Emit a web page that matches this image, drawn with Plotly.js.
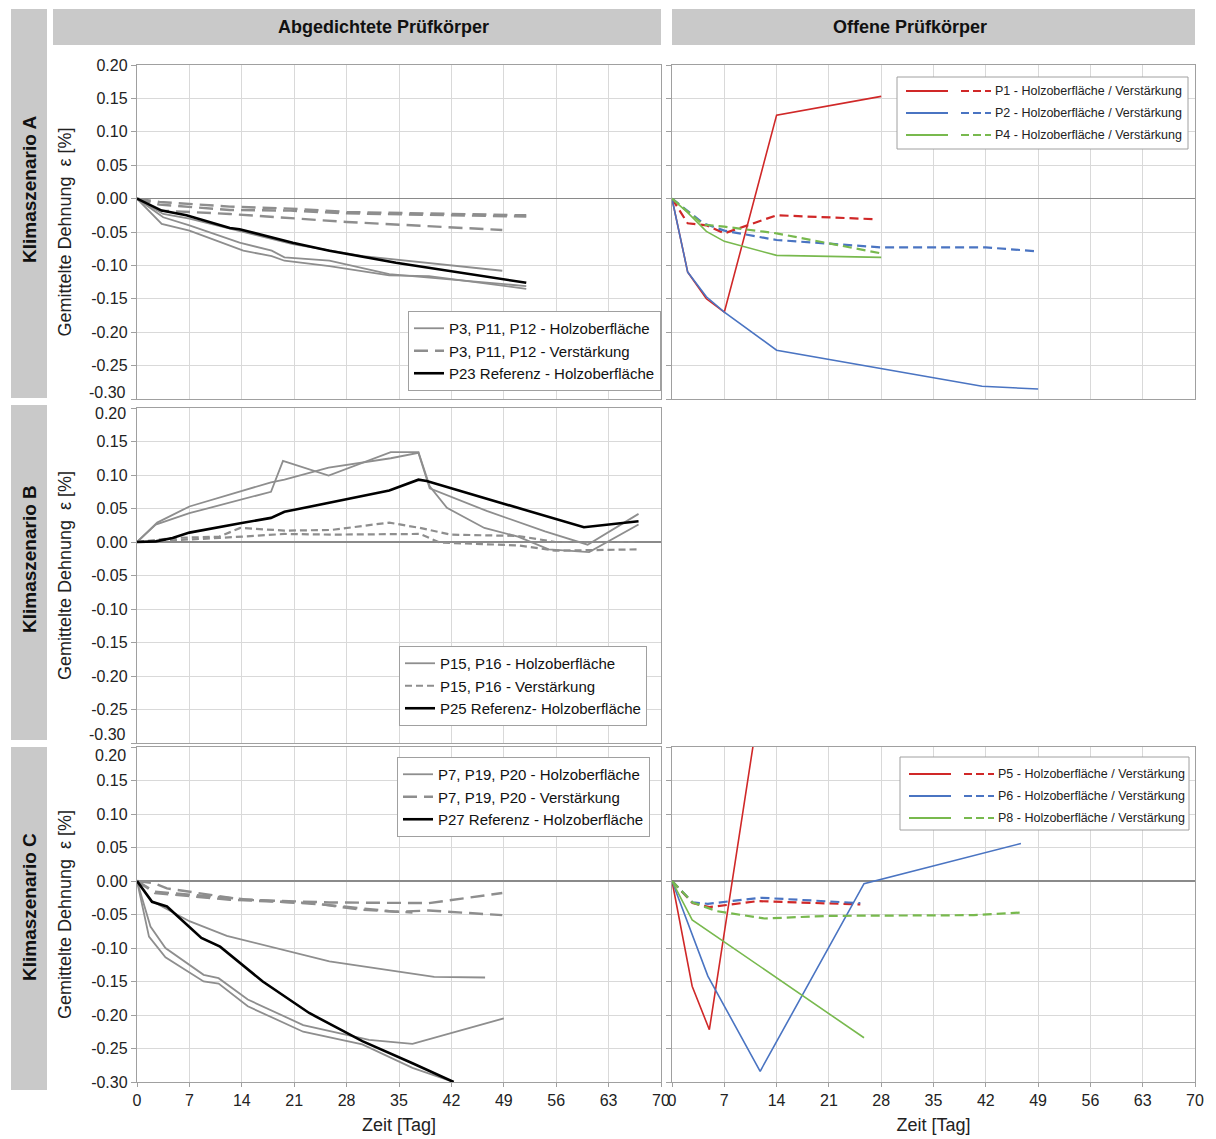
<!DOCTYPE html>
<html>
<head>
<meta charset="utf-8">
<script src="https://cdn.plot.ly/plotly-3.0.1.min.js"></script>
<style>html,body{margin:0;padding:0;background:#fff;}#chart{width:1216px;height:1139px;}</style>
</head>
<body>
<div id="chart"></div>
<script>
// ---------------- DATA ----------------
const xTicks = [0, 7, 14, 21, 28, 35, 42, 49, 56, 63, 70];
const yTicks = [-0.30, -0.25, -0.20, -0.15, -0.10, -0.05, 0.00, 0.05, 0.10, 0.15, 0.20];
const yTickText = ["-0.30", "-0.25", "-0.20", "-0.15", "-0.10", "-0.05", "0.00", "0.05", "0.10", "0.15", "0.20"];

const colHeaders = ["Abgedichtete Prüfkörper", "Offene Prüfkörper"];
const rowHeaders = ["Klimaszenario A", "Klimaszenario B", "Klimaszenario C"];
const yTitle = "Gemittelte Dehnung\u00a0\u00a0ε [%]";
const xTitle = "Zeit [Tag]";

// Klimaszenario A - abgedichtet
const A_h1_x = [0, 3.5, 7, 12.4, 20.8, 30.2, 48.8];
const A_h1_y = [0, -0.023, -0.030, -0.045, -0.068, -0.086, -0.108];
const A_h2_x = [0, 3.5, 7, 13.7, 18, 19.7, 25.7, 33.7, 52];
const A_h2_y = [0, -0.028, -0.040, -0.066, -0.078, -0.088, -0.093, -0.113, -0.131];
const A_h3_x = [0, 3.3, 7, 14.2, 18, 19.7, 25.7, 33.7, 39, 52];
const A_h3_y = [0, -0.038, -0.048, -0.078, -0.086, -0.093, -0.101, -0.115, -0.116, -0.135];
const A_v1_x = [0, 3, 12.4, 20.5, 28, 52];
const A_v1_y = [0, -0.005, -0.012, -0.015, -0.020, -0.025];
const A_v2_x = [0, 3, 12.4, 20.5, 28, 52];
const A_v2_y = [0, -0.009, -0.017, -0.018, -0.022, -0.027];
const A_v3_x = [0, 3, 12.4, 28, 48.8];
const A_v3_y = [0, -0.018, -0.023, -0.035, -0.047];
const A_ref_x = [0, 3.3, 6.6, 12.4, 13.7, 20.8, 25.7, 34.6, 52];
const A_ref_y = [0, -0.018, -0.025, -0.044, -0.046, -0.066, -0.078, -0.096, -0.126];
const A_names = ["P3, P11, P12 - Holzoberfläche", "P3, P11, P12 - Verstärkung", "P23 Referenz - Holzoberfläche"];

// Klimaszenario A - offen
const P1_h_x = [0, 2.1, 4.6, 7, 14, 28];
const P1_h_y = [0, -0.110, -0.150, -0.170, 0.125, 0.153];
const P1_v_x = [0, 2.1, 4.6, 7, 14, 27.5];
const P1_v_y = [0, -0.037, -0.040, -0.052, -0.025, -0.031];
const P2_h_x = [0, 2.1, 4.6, 7, 14, 28, 41.5, 49];
const P2_h_y = [0, -0.110, -0.147, -0.170, -0.227, -0.254, -0.281, -0.285];
const P2_v_x = [0, 4.2, 7, 14, 28, 42, 49];
const P2_v_y = [0, -0.037, -0.048, -0.062, -0.073, -0.073, -0.079];
const P4_h_x = [0, 2.1, 4.6, 7, 14, 28];
const P4_h_y = [0, -0.021, -0.049, -0.064, -0.085, -0.088];
const P4_v_x = [0, 4.2, 7, 14, 28];
const P4_v_y = [0, -0.039, -0.042, -0.052, -0.082];
const A_open_names = ["P1 - Holzoberfläche / Verstärkung", "P2 - Holzoberfläche / Verstärkung", "P4 - Holzoberfläche / Verstärkung"];

// Klimaszenario B - abgedichtet
const B_h1_x = [0, 2.5, 7, 13.8, 17.9, 19.5, 25.6, 33.9, 37.6, 39.1, 41.4, 46.4, 50.9, 55, 60.4, 67];
const B_h1_y = [0, 0.026, 0.043, 0.063, 0.075, 0.121, 0.099, 0.134, 0.134, 0.083, 0.051, 0.021, 0.008, -0.011, -0.015, 0.026];
const B_h2_x = [0, 2.7, 7, 13.8, 17.9, 19.7, 25.6, 33.9, 37.6, 39.1, 46.8, 54.5, 60.2, 67];
const B_h2_y = [0, 0.029, 0.053, 0.075, 0.089, 0.093, 0.111, 0.125, 0.133, 0.080, 0.046, 0.016, -0.004, 0.042];
const B_v1_x = [0, 4.75, 11, 13.8, 19.7, 26, 33.7, 37.8, 41.9, 50.9, 55.9, 67];
const B_v1_y = [0, 0.006, 0.008, 0.021, 0.017, 0.018, 0.029, 0.021, 0.011, 0.009, 0, 0];
const B_v2_x = [0, 11, 19.7, 26, 37.8, 40.5, 50.9, 55.9, 67];
const B_v2_y = [0, 0.006, 0.012, 0.011, 0.012, -0.001, -0.005, -0.013, -0.011];
const B_ref_x = [0, 2.5, 4.75, 7, 13.8, 17.9, 19.7, 33.7, 37.6, 38.7, 59.7, 67];
const B_ref_y = [0, 0.001, 0.006, 0.014, 0.028, 0.036, 0.045, 0.077, 0.093, 0.091, 0.022, 0.031];
const B_names = ["P15, P16 - Holzoberfläche", "P15, P16 - Verstärkung", "P25 Referenz- Holzoberfläche"];

// Klimaszenario C - abgedichtet
const C_h1_x = [0, 2, 7, 12, 25.7, 39.7, 46.5];
const C_h1_y = [0, -0.030, -0.060, -0.082, -0.120, -0.143, -0.144];
const C_h2_x = [0, 1.8, 3.8, 8.9, 10.9, 14.8, 22.2, 31, 36.8, 49];
const C_h2_y = [0, -0.068, -0.100, -0.140, -0.145, -0.177, -0.215, -0.237, -0.243, -0.205];
const C_h3_x = [0, 1.6, 3.8, 8.9, 10.9, 14.8, 22.2, 30.1, 36.8, 42.3];
const C_h3_y = [0, -0.083, -0.114, -0.150, -0.153, -0.187, -0.225, -0.244, -0.279, -0.300];
const C_v1_x = [0, 2.2, 4, 14.2, 25.7, 39, 48.8];
const C_v1_y = [0, -0.003, -0.011, -0.028, -0.032, -0.033, -0.018];
const C_v2_x = [0, 2.4, 14.2, 25.7, 34.6, 39, 48.8];
const C_v2_y = [0, -0.016, -0.027, -0.036, -0.046, -0.044, -0.051];
const C_v3_x = [0, 2.4, 12.4, 23.5, 30, 36.8];
const C_v3_y = [0, -0.018, -0.028, -0.033, -0.043, -0.047];
const C_ref_x = [0, 2, 4, 8.6, 11.1, 16.8, 23, 30.1, 36.8, 42.3];
const C_ref_y = [0, -0.031, -0.038, -0.085, -0.098, -0.150, -0.197, -0.239, -0.272, -0.300];
const C_names = ["P7, P19, P20 - Holzoberfläche", "P7, P19, P20 - Verstärkung", "P27 Referenz - Holzoberfläche"];

// Klimaszenario C - offen
const P5_h_x = [0, 2.7, 5, 10.8, 14];
const P5_h_y = [0, -0.157, -0.222, 0.197, 0.43];
const P5_v_x = [0, 2.75, 5, 11.5, 25.2];
const P5_v_y = [0, -0.033, -0.039, -0.030, -0.035];
const P6_h_x = [0, 4.8, 11.8, 25.7, 46.7];
const P6_h_y = [0, -0.142, -0.284, -0.004, 0.056];
const P6_v_x = [0, 2.75, 4.8, 11.9, 25.2];
const P6_v_y = [0, -0.032, -0.034, -0.025, -0.033];
const P8_h_x = [0, 2.7, 25.7];
const P8_h_y = [0, -0.058, -0.234];
const P8_v_x = [0, 2.75, 6, 12.4, 21, 40.4, 46.8];
const P8_v_y = [0, -0.032, -0.045, -0.056, -0.052, -0.051, -0.047];
const C_open_names = ["P5 - Holzoberfläche / Verstärkung", "P6 - Holzoberfläche / Verstärkung", "P8 - Holzoberfläche / Verstärkung"];

// ---------------- STYLE ----------------
const W = 1216, H = 1139;
const X = p => p / W;
const Y = p => 1 - p / H;
const FONT = "Liberation Sans, Arial, sans-serif";
const GRAY = "#8e8e8e", BLACK = "#000000";
const RED = "#d02828", BLUE = "#4a74c2", GREEN = "#78b94e";
const LONGDASH = "14px,7px", SHORTDASH = "7px,4px", CDASH = "9px,5px";
const TICKSIZE = 16;

const traces = [];
function add(x, y, ax, color, width, dash, name, show, legend) {
  traces.push({
    type: "scatter", mode: "lines", x: x, y: y,
    xaxis: "x" + (ax === 1 ? "" : ax), yaxis: "y" + (ax === 1 ? "" : ax),
    line: {color: color, width: width, dash: dash || "solid"},
    name: name || "", showlegend: !!show, legend: legend || "legend",
    hoverinfo: "skip"
  });
}

// A left
add(A_h1_x, A_h1_y, 1, GRAY, 1.8, "solid", A_names[0], true, "legend");
add(A_h2_x, A_h2_y, 1, GRAY, 1.8, "solid", A_names[0], false, "legend");
add(A_h3_x, A_h3_y, 1, GRAY, 1.8, "solid", A_names[0], false, "legend");
add(A_v1_x, A_v1_y, 1, GRAY, 2.4, LONGDASH, A_names[1], true, "legend");
add(A_v2_x, A_v2_y, 1, GRAY, 2.4, LONGDASH, A_names[1], false, "legend");
add(A_v3_x, A_v3_y, 1, GRAY, 2.4, LONGDASH, A_names[1], false, "legend");
add(A_ref_x, A_ref_y, 1, BLACK, 2.6, "solid", A_names[2], true, "legend");
// A right
add(P1_h_x, P1_h_y, 2, RED, 1.6, "solid");
add(P1_v_x, P1_v_y, 2, RED, 2.2, CDASH);
add(P2_h_x, P2_h_y, 2, BLUE, 1.6, "solid");
add(P2_v_x, P2_v_y, 2, BLUE, 2.2, CDASH);
add(P4_h_x, P4_h_y, 2, GREEN, 1.6, "solid");
add(P4_v_x, P4_v_y, 2, GREEN, 2.2, CDASH);
// B left
add(B_h1_x, B_h1_y, 3, GRAY, 1.8, "solid", B_names[0], true, "legend2");
add(B_h2_x, B_h2_y, 3, GRAY, 1.8, "solid", B_names[0], false, "legend2");
add(B_v1_x, B_v1_y, 3, GRAY, 2.2, SHORTDASH, B_names[1], true, "legend2");
add(B_v2_x, B_v2_y, 3, GRAY, 2.2, SHORTDASH, B_names[1], false, "legend2");
add(B_ref_x, B_ref_y, 3, BLACK, 2.6, "solid", B_names[2], true, "legend2");
// C left
add(C_h1_x, C_h1_y, 4, GRAY, 1.8, "solid", C_names[0], true, "legend3");
add(C_h2_x, C_h2_y, 4, GRAY, 1.8, "solid", C_names[0], false, "legend3");
add(C_h3_x, C_h3_y, 4, GRAY, 1.8, "solid", C_names[0], false, "legend3");
add(C_v1_x, C_v1_y, 4, GRAY, 2.4, LONGDASH, C_names[1], true, "legend3");
add(C_v2_x, C_v2_y, 4, GRAY, 2.4, LONGDASH, C_names[1], false, "legend3");
add(C_v3_x, C_v3_y, 4, GRAY, 2.4, LONGDASH, C_names[1], false, "legend3");
add(C_ref_x, C_ref_y, 4, BLACK, 2.6, "solid", C_names[2], true, "legend3");
// C right
add(P5_h_x, P5_h_y, 5, RED, 1.6, "solid");
add(P5_v_x, P5_v_y, 5, RED, 2.2, CDASH);
add(P6_h_x, P6_h_y, 5, BLUE, 1.6, "solid");
add(P6_v_x, P6_v_y, 5, BLUE, 2.2, CDASH);
add(P8_h_x, P8_h_y, 5, GREEN, 1.6, "solid");
add(P8_v_x, P8_v_y, 5, GREEN, 2.2, CDASH);

// ---------------- AXES ----------------
const xL = [X(137), X(661)], xR = [X(672), X(1195)];
const yA = [Y(399), Y(65)], yB = [Y(743), Y(408)], yC = [Y(1082), Y(747)];

function xax(domain, anchor, bottom) {
  const a = {
    domain: domain, anchor: anchor, range: [0, 70],
    tickmode: "array", tickvals: xTicks, ticktext: xTicks.map(String),
    showgrid: true, gridcolor: "#d9d9d9", gridwidth: 1,
    zeroline: false, showline: true, mirror: true, linecolor: "#a0a0a0", linewidth: 1.2,
    showticklabels: bottom, ticks: bottom ? "outside" : "", ticklen: 4, tickcolor: "#a0a0a0",
    tickfont: {family: FONT, size: TICKSIZE, color: "#222"}, fixedrange: true
  };
  if (bottom) a.title = {text: xTitle, font: {family: FONT, size: 18, color: "#222"}, standoff: 10};
  return a;
}
// hideTop / hideBottom: edge labels drawn separately (shifted like the reference) so rows don't collide
function yax(domain, anchor, labels, hideTop, hideBottom) {
  const txt = yTickText.map((t, i) => (hideBottom && i === 0) || (hideTop && i === yTickText.length - 1) ? "" : t);
  const a = {
    domain: domain, anchor: anchor, range: [-0.3, 0.2],
    tickmode: "array", tickvals: yTicks, ticktext: txt,
    showgrid: true, gridcolor: "#d9d9d9", gridwidth: 1,
    zeroline: true, zerolinecolor: "#8a8a8a", zerolinewidth: 1.2,
    showline: true, mirror: true, linecolor: "#a0a0a0", linewidth: 1.2,
    showticklabels: labels, ticks: "outside", ticklen: 5, tickcolor: "#a0a0a0",
    tickfont: {family: FONT, size: TICKSIZE, color: "#222"}, fixedrange: true
  };
  if (labels) a.title = {text: yTitle, font: {family: FONT, size: 18, color: "#222"}, standoff: 14};
  return a;
}

// ---------------- DECORATION ----------------
const STRIP = "#c9c9c9";
const shapes = [
  {type: "rect", xref: "paper", yref: "paper", x0: X(53), x1: X(661), y0: Y(45), y1: Y(9), fillcolor: STRIP, line: {width: 0}, layer: "below"},
  {type: "rect", xref: "paper", yref: "paper", x0: X(672), x1: X(1195), y0: Y(45), y1: Y(9), fillcolor: STRIP, line: {width: 0}, layer: "below"},
  {type: "rect", xref: "paper", yref: "paper", x0: X(11), x1: X(47), y0: Y(398), y1: Y(9), fillcolor: STRIP, line: {width: 0}, layer: "below"},
  {type: "rect", xref: "paper", yref: "paper", x0: X(11), x1: X(47), y0: Y(740), y1: Y(405), fillcolor: STRIP, line: {width: 0}, layer: "below"},
  {type: "rect", xref: "paper", yref: "paper", x0: X(11), x1: X(47), y0: Y(1090), y1: Y(747), fillcolor: STRIP, line: {width: 0}, layer: "below"}
];
function ann(text, px, py, opts) {
  return Object.assign({text: text, x: X(px), y: Y(py), xref: "paper", yref: "paper", xanchor: "center", yanchor: "middle",
    showarrow: false, font: {family: FONT, size: 18, color: "#111"}}, opts || {});
}
const annotations = [
  ann("<b>" + colHeaders[0] + "</b>", 383, 27),
  ann("<b>" + colHeaders[1] + "</b>", 910, 27),
  ann("<b>" + rowHeaders[0] + "</b>", 29, 190, {textangle: -90, font: {family: FONT, size: 19, color: "#111"}}),
  ann("<b>" + rowHeaders[1] + "</b>", 29, 559, {textangle: -90, font: {family: FONT, size: 19, color: "#111"}}),
  ann("<b>" + rowHeaders[2] + "</b>", 29, 907, {textangle: -90, font: {family: FONT, size: 19, color: "#111"}})
];
// shifted edge tick labels (as in the reference, where adjacent rows meet)
function edgeLabel(text, yref, yval, shift) {
  annotations.push({text: text, xref: "paper", x: X(128), xanchor: "right", yref: yref, y: yval, yanchor: "middle", yshift: shift,
    showarrow: false, font: {family: FONT, size: TICKSIZE, color: "#222"}});
}
edgeLabel(yTickText[0], "y", yTicks[0], 7);
edgeLabel(yTickText[10], "y3", yTicks[10], -6);
edgeLabel(yTickText[0], "y3", yTicks[0], 8);
edgeLabel(yTickText[10], "y4", yTicks[10], -8);

// legends for open specimens (solid + dashed glyph pairs)
function openLegend(box, rows, names, colors) {
  shapes.push({type: "rect", xref: "paper", yref: "paper", x0: X(box[0]), x1: X(box[1]), y0: Y(box[3]), y1: Y(box[2]),
    fillcolor: "#ffffff", line: {color: "#a0a0a0", width: 1}});
  rows.forEach((ry, i) => {
    shapes.push({type: "line", xref: "paper", yref: "paper", x0: X(box[0] + 9), x1: X(box[0] + 51), y0: Y(ry), y1: Y(ry), line: {color: colors[i], width: 2}});
    shapes.push({type: "line", xref: "paper", yref: "paper", x0: X(box[0] + 64), x1: X(box[0] + 94), y0: Y(ry), y1: Y(ry), line: {color: colors[i], width: 2.2, dash: "8px,4px"}});
    annotations.push({text: names[i], x: X(box[0] + 96), y: Y(ry), xref: "paper", yref: "paper", xanchor: "left", yanchor: "middle", showarrow: false,
      font: {family: FONT, size: 12.5, color: "#222"}});
  });
}
openLegend([897, 1188, 77, 149], [91, 113, 135], A_open_names, [RED, BLUE, GREEN]);
openLegend([900, 1189, 757, 830], [774, 796, 818], C_open_names, [RED, BLUE, GREEN]);

function leg(xr, yt) {
  return {x: X(xr), xanchor: "right", y: Y(yt), yanchor: "top", bgcolor: "#ffffff", bordercolor: "#a0a0a0", borderwidth: 1,
    font: {family: FONT, size: 15, color: "#111"}, tracegroupgap: 0, itemclick: false, itemdoubleclick: false};
}

const layout = {
  width: W, height: H, margin: {l: 0, r: 0, t: 0, b: 0},
  paper_bgcolor: "#ffffff", plot_bgcolor: "#ffffff",
  font: {family: FONT, color: "#222"},
  showlegend: true,
  legend: leg(661, 311), legend2: leg(647, 646), legend3: leg(650, 757),
  xaxis: xax(xL, "y", false), yaxis: yax(yA, "x", true, false, true),
  xaxis2: xax(xR, "y2", false), yaxis2: yax(yA, "x2", false),
  xaxis3: xax(xL, "y3", false), yaxis3: yax(yB, "x3", true, true, true),
  xaxis4: xax(xL, "y4", true), yaxis4: yax(yC, "x4", true, true, false),
  xaxis5: xax(xR, "y5", true), yaxis5: yax(yC, "x5", false),
  shapes: shapes, annotations: annotations
};

Plotly.newPlot("chart", traces, layout, {displayModeBar: false, staticPlot: true});
</script>
</body>
</html>
